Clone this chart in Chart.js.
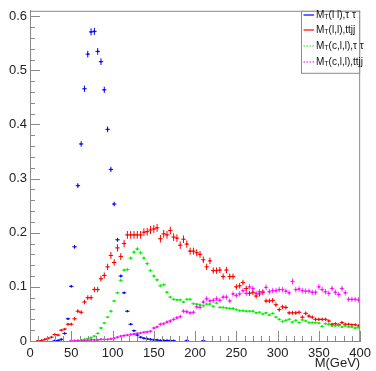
<!DOCTYPE html>
<html><head><meta charset="utf-8">
<script src="https://cdn.jsdelivr.net/npm/chart.js@4.4.0/dist/chart.umd.min.js"></script>
<style>html,body{margin:0;padding:0;background:#fff}</style>
</head><body>
<canvas id="c" width="376" height="371" style="width:376px;height:371px;display:block"></canvas>
<script>
// ---- data (bin centres of 4 GeV bins) ----
const binCenters = [2,6,10,14,18,22,26,30,34,38,42,46,50,54,58,62,66,70,74,78,82,86,90,94,98,102,106,110,114,118,122,126,130,134,138,142,146,150,154,158,162,166,170,174,178,182,186,190,194,198,202,206,210,214,218,222,226,230,234,238,242,246,250,254,258,262,266,270,274,278,282,286,290,294,298,302,306,310,314,318,322,326,330,334,338,342,346,350,354,358,362,366,370,374,378,382,386,390,394,398];
const xTickLabels = [0,50,100,150,200,250,300,350,400];
const yTickLabels = [0,0.1,0.2,0.3,0.4,0.5,0.6];
const seriesNames = ["M_T(l l),τ τ","M_T(l,l),ttjj","M_T(c,l,l),τ τ","M_T(c,l,l),ttjj"];

const mtLLTauTau = [null,null,null,null,null,null,null,0.0005,0.001,0.003,0.014,0.041,0.101,0.174,0.287,0.364,0.466,0.530,0.571,0.572,0.535,0.516,0.464,0.391,0.317,0.253,0.187,0.120,0.089,0.055,0.031,0.019,0.011,0.007,0.005,0.004,0.003,0.002,0.002,0.001,0.001,0.001,0.001,0.0005,null,null,null,0.0005,null,null,null,null,0.0005,null,null,null,null,null,null,null,null,null,null,null,null,null,null,null,null,null,null,null,null,null,null,null,null,null,null,null,null,null,null,null,null,null,null,null,null,null,null,null,null,null,null,null,null,null,null,null];
const mtLLTtjj = [null,null,0.0005,0.001,0.003,0.005,0.007,0.012,0.011,0.020,0.022,0.031,0.031,0.041,0.055,0.053,0.072,0.080,0.080,0.095,0.095,0.115,0.121,0.137,0.158,0.145,0.172,0.156,0.180,0.196,0.196,0.196,0.196,0.196,0.201,0.202,0.205,0.207,0.209,0.189,0.198,0.196,0.204,0.192,0.190,0.177,0.188,0.179,0.166,0.166,0.163,0.160,0.150,0.137,0.148,0.130,0.130,0.131,0.119,0.131,0.119,0.119,0.100,0.102,0.108,0.097,0.088,0.090,0.083,0.087,0.090,0.074,0.074,0.075,0.067,0.058,0.063,0.062,0.052,0.052,0.052,0.053,0.044,0.051,0.046,0.044,0.040,0.040,0.040,0.040,0.037,0.031,0.032,0.030,0.034,0.031,0.031,0.030,0.030,0.028];
const mtCLLTauTau = [null,null,null,null,null,null,null,null,null,null,null,null,null,null,0.0005,0.001,0.003,0.004,0.006,0.009,0.014,0.024,0.033,0.044,0.055,0.074,0.089,0.112,0.131,0.132,0.153,0.164,0.170,0.163,0.153,0.143,0.130,0.120,0.113,0.102,0.104,0.090,0.081,0.077,0.076,0.076,0.072,0.077,0.077,0.069,0.068,0.067,0.065,0.068,0.068,0.064,0.070,0.062,0.062,0.061,0.060,0.060,0.058,0.056,0.056,0.055,0.055,0.055,0.052,0.053,0.050,0.052,0.048,0.051,0.044,0.040,0.036,0.038,0.040,0.035,0.038,0.034,0.039,0.037,0.034,0.034,0.034,0.033,0.027,0.032,0.031,0.028,0.028,0.029,0.026,0.028,0.026,0.026,0.024,0.025];
const mtCLLTtjj = [null,null,null,null,null,null,null,null,null,null,null,null,0.0005,0.0005,0.0005,0.001,0.001,0.001,0.002,0.002,0.002,0.003,0.003,0.003,0.004,0.005,0.007,0.009,0.010,0.011,0.012,0.013,0.014,0.015,0.016,0.017,0.018,0.024,0.026,0.031,0.032,0.035,0.037,0.040,0.043,0.045,0.055,0.054,0.052,0.053,0.063,0.062,0.072,0.078,0.074,0.075,0.078,0.075,0.081,0.081,0.074,0.087,0.084,0.087,0.093,0.088,0.100,0.097,0.088,0.091,0.091,0.099,0.091,0.093,0.093,0.095,0.095,0.092,0.089,0.110,0.095,0.096,0.093,0.092,0.092,0.090,0.090,0.100,0.095,0.091,0.088,0.097,0.090,0.086,0.097,0.089,0.077,0.077,0.077,0.076];

const seriesValues = [mtLLTauTau, mtLLTtjj, mtCLLTauTau, mtCLLTtjj];
const seriesColors = ['#0000ff','#ff0000','#00ee00','#ff00ff'];
const seriesDash = [[],[],[1.5,1.5],[1.5,1.5]];
const errScale = [0.0085,0.016,0.009,0.017]; // error-bar size style per series
const BIN_HALF = 2;
const FONT = "'Liberation Sans', Arial, Helvetica, sans-serif";

function toPoints(vals){
  const pts=[];
  vals.forEach((v,i)=>{ if(v!==null) pts.push({x:binCenters[i], y:v}); });
  return pts;
}

const errorBars = {
  id:'errorBars',
  afterDatasetsDraw(chart){
    const ctx=chart.ctx, xs=chart.scales.x, ys=chart.scales.y;
    ctx.save();
    ctx.beginPath(); ctx.rect(chart.chartArea.left,chart.chartArea.top,chart.chartArea.right-chart.chartArea.left,chart.chartArea.bottom-chart.chartArea.top); ctx.clip();
    chart.data.datasets.forEach((ds,di)=>{
      const meta=chart.getDatasetMeta(di);
      ctx.strokeStyle=seriesColors[di];
      ctx.lineWidth=1;
      ctx.setLineDash([]);
      ds.data.forEach((p,j)=>{
        const el=meta.data[j]; if(!el) return;
        const px=el.x, py=el.y;
        const e=errScale[di]*Math.sqrt(p.y);
        const y1=ys.getPixelForValue(p.y+e), y2=ys.getPixelForValue(Math.max(0,p.y-e));
        const hx=Math.max(2.2, xs.getPixelForValue(p.x+BIN_HALF)-px);
        ctx.globalAlpha = di>=2 ? 0.75 : 1;
        ctx.beginPath();
        ctx.moveTo(px, Math.min(y1,py-1.2)); ctx.lineTo(px, Math.max(y2,py+1.2));
        ctx.moveTo(px-hx, py); ctx.lineTo(px+hx, py);
        ctx.stroke();
      });
    });
    ctx.restore();
  }
};

const frameTicks = {
  id:'frameTicks',
  afterDraw(chart){
    const ctx=chart.ctx, a=chart.chartArea, xs=chart.scales.x, ys=chart.scales.y;
    ctx.save();
    ctx.strokeStyle='#8a8a8a'; ctx.lineWidth=1;
    ctx.beginPath();
    ctx.moveTo(a.left, a.top+0.5); ctx.lineTo(a.right, a.top+0.5);
    ctx.moveTo(a.right-0.5, a.top); ctx.lineTo(a.right-0.5, a.bottom);
    // x ticks (inside)
    for(let v=0; v<=400; v+=10){
      const px=Math.round(xs.getPixelForValue(v))+0.5;
      const len = (v%50===0)?10:5;
      ctx.moveTo(px, a.bottom); ctx.lineTo(px, a.bottom-len);
    }
    // y ticks (inside)
    for(let k=0; k<=30; k++){
      const v=k*0.02;
      const py=Math.round(ys.getPixelForValue(v))+0.5;
      const len=(k%5===0)?10:5;
      ctx.moveTo(a.left, py); ctx.lineTo(a.left+len, py);
    }
    ctx.stroke();

    // legend
    const lx=301.5, ly=a.top+0.5, lw=a.right-0.5-301.5, lh=62;
    ctx.fillStyle='#fff'; ctx.fillRect(lx,ly,lw,lh);
    ctx.strokeStyle='#8a8a8a'; ctx.strokeRect(lx,ly,lw,lh);
    const rows=[15,30,46,62];
    seriesNames.forEach((name,i)=>{
      const y=rows[i];
      ctx.strokeStyle=seriesColors[i]; ctx.lineWidth=1.2;
      ctx.setLineDash(seriesDash[i]);
      ctx.beginPath(); ctx.moveTo(303.5,y); ctx.lineTo(314,y); ctx.stroke();
      ctx.setLineDash([]);
      ctx.fillStyle='#111'; ctx.textBaseline='middle'; ctx.textAlign='left';
      const parts=name.split('_');
      let x=316;
      ctx.font='10px '+FONT;
      ctx.fillText(parts[0],x,y); x+=ctx.measureText(parts[0]).width;
      const sub=parts[1].charAt(0), rest=parts[1].slice(1);
      ctx.font='7px '+FONT;
      ctx.fillText(sub,x,y+2.5); x+=ctx.measureText(sub).width;
      ctx.font='10px '+FONT;
      ctx.fillText(rest,x,y);
    });
    ctx.restore();
  }
};

new Chart(document.getElementById('c'), {
  type:'scatter',
  data:{ datasets: seriesValues.map((vals,i)=>({
    label: seriesNames[i],
    data: toPoints(vals),
    backgroundColor: seriesColors[i],
    borderColor: seriesColors[i],
    borderWidth:0,
    pointStyle:'rect',
    pointRadius: i>=2 ? 1.3 : 1.1,
    showLine:false,
    order: seriesValues.length - i
  }))},
  options:{
    responsive:false, animation:false, devicePixelRatio:1,
    layout:{padding:{top:7,right:12,left:0,bottom:0}},
    plugins:{legend:{display:false}, tooltip:{enabled:false}},
    scales:{
      x:{ type:'linear', min:0, max:400,
        afterBuildTicks:s=>{ s.ticks = xTickLabels.map(v=>({value:v})); },
        afterFit:s=>{ s.height=30; },
        grid:{display:false, drawTicks:false},
        border:{display:true, color:'#8a8a8a', width:1},
        ticks:{ autoSkip:false, maxRotation:0, padding:5, color:'#222', font:{family:FONT,size:13}, callback:v=>String(v) },
        title:{ display:true, text:'M(GeV)', align:'end', color:'#222', font:{family:FONT,size:13}, padding:{top:0,bottom:0} }
      },
      y:{ type:'linear', min:0, max:0.61,
        afterBuildTicks:s=>{ s.ticks = yTickLabels.map(v=>({value:v})); },
        afterFit:s=>{ s.width=30; },
        grid:{display:false, drawTicks:false},
        border:{display:true, color:'#8a8a8a', width:1},
        ticks:{ padding:3, color:'#222', font:{family:FONT,size:13}, callback:v=> v===0 ? '0' : Number(v).toFixed(1) }
      }
    }
  },
  plugins:[errorBars, frameTicks]
});
</script>
</body></html>
